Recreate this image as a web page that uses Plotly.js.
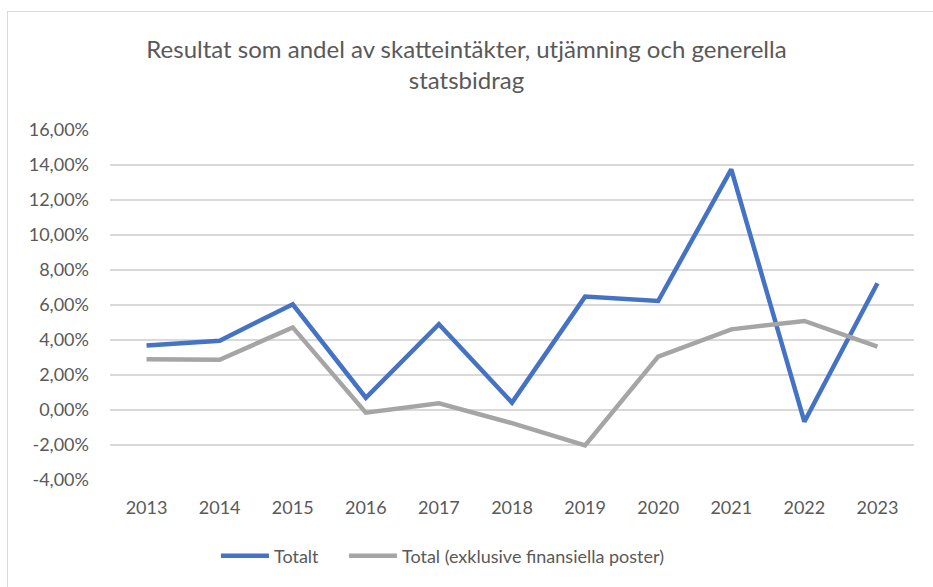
<!DOCTYPE html>
<html>
<head>
<meta charset="utf-8">
<script src="https://cdn.plot.ly/plotly-3.0.1.min.js"></script>
<style>
html,body{margin:0;padding:0;background:#fff;}
#chart{width:933px;height:587px;position:relative;}
#frame{position:absolute;left:7px;top:11px;width:960px;height:620px;border:1.5px solid #d9d9d9;pointer-events:none;}
</style>
</head>
<body>
<div id="chart"></div>
<div id="frame"></div>
<script>
const years = ['2013','2014','2015','2016','2017','2018','2019','2020','2021','2022','2023'];
const totalt = [3.68, 3.96, 6.04, 0.70, 4.90, 0.42, 6.48, 6.23, 13.75, -0.67, 7.24];
const totalExkl = [2.90, 2.87, 4.72, -0.15, 0.38, -0.75, -2.02, 3.05, 4.61, 5.09, 3.62];
const yTickVals = [-4, -2, 0, 2, 4, 6, 8, 10, 12, 14, 16];
const yTickText = ['-4,00%','-2,00%','0,00%','2,00%','4,00%','6,00%','8,00%','10,00%','12,00%','14,00%','16,00%'];
const seriesNames = ['Totalt', 'Total (exklusive finansiella poster)'];
const titleText = 'Resultat som andel av skatteintäkter, utjämning och generella<br>statsbidrag';

const font = 'Lato, "Open Sans", sans-serif';
const traces = [
  {x: years, y: totalt, name: seriesNames[0], type: 'scatter', mode: 'lines',
   line: {color: '#4472C4', width: 4.5}, legend: 'legend'},
  {x: years, y: totalExkl, name: seriesNames[1], type: 'scatter', mode: 'lines',
   line: {color: '#A5A5A5', width: 4.5}, legend: 'legend2'}
];
const legendCommon = {orientation: 'h', xanchor: 'left', y: -0.217, yanchor: 'middle',
  font: {size: 18, color: '#595959'}, itemwidth: 48, bgcolor: 'rgba(0,0,0,0)'};
const layout = {
  width: 933, height: 587,
  paper_bgcolor: '#ffffff', plot_bgcolor: '#ffffff',
  margin: {l: 110, r: 19, t: 130, b: 107},
  font: {family: font, color: '#595959', size: 18},
  title: {text: titleText, font: {family: font, size: 24, color: '#595959'},
          x: 0.5, xanchor: 'center', y: 1 - 58/587, yanchor: 'middle', yref: 'container'},
  xaxis: {type: 'category', range: [-0.5, 10.5], showgrid: false, zeroline: false,
          showline: false, ticks: '', ticklabelstandoff: 15,
          tickfont: {size: 18, color: '#595959'}, fixedrange: true},
  yaxis: {range: [-4, 16], tickvals: yTickVals, ticktext: yTickText, showgrid: true,
          gridcolor: '#D9D9D9', gridwidth: 1.5, zeroline: false, showline: false, ticks: '',
          ticklabelstandoff: 20, tickfont: {size: 18, color: '#595959'}, fixedrange: true},
  showlegend: true,
  legend: Object.assign({}, legendCommon, {x: 0.1318}),
  legend2: Object.assign({}, legendCommon, {x: 0.291})
};
Plotly.newPlot('chart', traces, layout, {displayModeBar: false, staticPlot: true});
</script>
</body>
</html>
